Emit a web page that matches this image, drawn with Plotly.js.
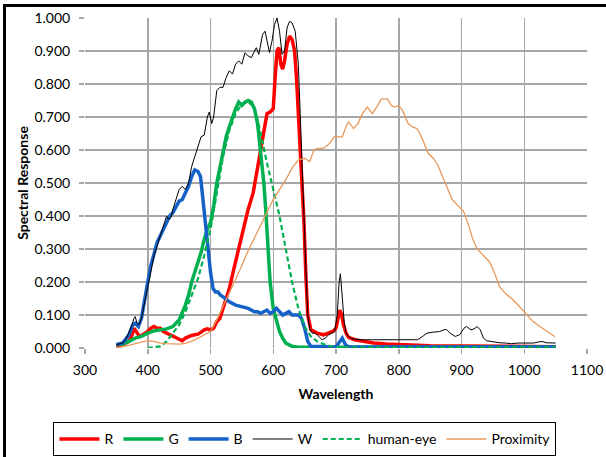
<!DOCTYPE html>
<html>
<head>
<meta charset="utf-8">
<script src="https://cdn.plot.ly/plotly-3.0.1.min.js"></script>
<style>
  html, body { margin: 0; padding: 0; background: #fff; }
  #wrap { position: relative; width: 606px; height: 457px; overflow: hidden; }
  #chart { position: absolute; left: 0; top: 0; width: 606px; height: 457px; }
  #frame { position: absolute; left: 3px; top: 4px; width: 620px; height: 470px;
           border-top: 3px solid #000; border-left: 3px solid #000; pointer-events: none; }
</style>
</head>
<body>
<div id="wrap"><div id="chart"></div><div id="frame"></div></div>
<script>
// ---- Data ----
const seriesNames = ['R', 'G', 'B', 'W', 'human-eye', 'Proximity'];

const rWl = [350,360,370,375,378,382,387,392,400,405,410,415,420,425,430,435,440,445,450,455,460,465,470,475,480,485,490,495,500,505,510,515,520,530,536,545,552,560,568,575,580,585,590,595,600,603,606,609,612,615,618,622,626,630,634,637,640,643,646,649,652,655,660,670,680,690,695,700,703,706,709,712,716,720,730,740,750,760,780,800,850,900,950,1000,1050];
const rVal = [0.005,0.01,0.02,0.04,0.06,0.05,0.035,0.04,0.05,0.06,0.065,0.06,0.06,0.05,0.045,0.04,0.035,0.03,0.025,0.022,0.03,0.035,0.038,0.04,0.042,0.048,0.055,0.058,0.055,0.06,0.08,0.09,0.12,0.18,0.23,0.30,0.36,0.42,0.47,0.55,0.60,0.66,0.71,0.715,0.725,0.82,0.90,0.91,0.86,0.845,0.87,0.92,0.945,0.935,0.90,0.82,0.72,0.60,0.50,0.38,0.22,0.10,0.055,0.045,0.04,0.045,0.05,0.06,0.09,0.115,0.10,0.07,0.045,0.032,0.025,0.022,0.018,0.015,0.012,0.01,0.007,0.006,0.005,0.004,0.004];

const gWl = [350,360,370,380,390,400,410,420,430,440,450,460,465,470,475,480,485,490,495,500,505,510,515,520,525,530,535,540,545,550,555,560,565,570,575,580,585,588,591,595,600,605,610,615,620,630,640,700,800,900,1050];
const gVal = [0.01,0.012,0.02,0.03,0.035,0.045,0.052,0.055,0.058,0.065,0.085,0.13,0.16,0.2,0.23,0.26,0.29,0.33,0.36,0.38,0.43,0.50,0.55,0.60,0.64,0.67,0.70,0.725,0.745,0.735,0.745,0.75,0.745,0.725,0.68,0.60,0.50,0.42,0.31,0.20,0.12,0.085,0.05,0.03,0.015,0.005,0.002,0.002,0.002,0.002,0.002];

const bWl = [350,360,370,376,380,385,390,395,400,405,410,415,420,425,430,435,440,445,450,455,460,465,470,475,480,484,488,492,496,500,504,508,512,516,520,530,540,550,560,570,575,580,585,590,595,600,605,610,615,620,625,630,640,645,650,655,660,700,705,710,715,720,800,900,1050];
const bVal = [0.01,0.015,0.04,0.07,0.075,0.065,0.09,0.15,0.20,0.25,0.29,0.32,0.34,0.36,0.385,0.40,0.41,0.43,0.445,0.45,0.47,0.49,0.52,0.54,0.535,0.52,0.45,0.37,0.30,0.23,0.18,0.17,0.17,0.16,0.155,0.14,0.13,0.125,0.12,0.11,0.11,0.105,0.11,0.115,0.105,0.11,0.12,0.11,0.10,0.105,0.11,0.10,0.10,0.09,0.06,0.02,0.005,0.003,0.015,0.03,0.01,0.003,0.003,0.003,0.003];

const wWl = [350,360,365,370,375,378,380,383,386,390,395,400,405,410,415,420,425,430,433,437,440,445,450,455,460,465,470,475,480,485,490,495,498,502,505,510,515,520,525,530,535,540,545,550,555,560,565,570,573,577,583,587,590,594,598,602,606,610,614,618,622,626,630,635,640,643,646,649,652,655,658,662,667,672,678,683,688,693,698,702,705,707,710,713,716,720,725,740,760,780,800,830,838,845,855,865,872,876,882,890,897,904,908,915,920,925,930,935,940,950,960,970,980,990,1000,1015,1022,1028,1035,1050];
const wVal = [0.01,0.015,0.025,0.045,0.07,0.09,0.095,0.075,0.07,0.09,0.14,0.18,0.23,0.28,0.31,0.34,0.37,0.40,0.39,0.395,0.42,0.45,0.48,0.49,0.48,0.50,0.55,0.58,0.61,0.64,0.645,0.70,0.715,0.68,0.70,0.78,0.79,0.79,0.82,0.84,0.83,0.86,0.87,0.86,0.895,0.885,0.88,0.90,0.91,0.89,0.95,0.96,0.93,0.895,0.93,0.98,1.0,0.96,0.89,0.90,0.97,0.99,0.985,0.96,0.86,0.72,0.56,0.40,0.24,0.10,0.06,0.045,0.045,0.035,0.025,0.03,0.04,0.045,0.05,0.10,0.20,0.225,0.16,0.08,0.045,0.035,0.028,0.025,0.025,0.025,0.025,0.025,0.035,0.045,0.048,0.05,0.055,0.056,0.045,0.035,0.04,0.06,0.065,0.055,0.058,0.065,0.055,0.03,0.022,0.018,0.016,0.015,0.013,0.015,0.015,0.015,0.018,0.02,0.016,0.015];

const eyeWl = [400,420,430,440,450,460,470,480,490,500,510,520,530,540,550,560,570,580,590,600,610,620,630,640,650,660,670,680,690,700,720,800,900,1050];
const eyeVal = [0,0.005,0.02,0.045,0.07,0.11,0.16,0.21,0.28,0.36,0.47,0.58,0.66,0.71,0.74,0.745,0.73,0.65,0.56,0.48,0.40,0.30,0.20,0.12,0.065,0.035,0.02,0.012,0.006,0.003,0.002,0.002,0.002,0.002];

const pWl = [350,360,370,380,390,400,410,420,430,440,450,460,470,480,490,500,510,520,530,540,550,560,570,580,590,600,610,620,630,640,650,658,665,670,680,690,697,710,717,720,728,735,742,750,758,765,772,782,788,793,800,806,815,822,829,835,847,855,862,870,878,885,895,903,910,918,925,935,945,952,961,970,980,988,1000,1014,1025,1040,1049];
const pVal = [0,0.003,0.008,0.013,0.018,0.022,0.02,0.015,0.013,0.012,0.012,0.014,0.02,0.03,0.04,0.05,0.085,0.125,0.165,0.21,0.25,0.295,0.335,0.375,0.41,0.45,0.48,0.51,0.545,0.57,0.575,0.565,0.60,0.605,0.605,0.62,0.64,0.64,0.675,0.685,0.665,0.68,0.71,0.73,0.71,0.73,0.755,0.755,0.735,0.73,0.735,0.72,0.68,0.67,0.665,0.645,0.59,0.575,0.555,0.52,0.48,0.45,0.43,0.415,0.38,0.33,0.30,0.28,0.26,0.23,0.185,0.165,0.15,0.135,0.11,0.08,0.065,0.045,0.034];

const xTickVals = [300,400,500,600,700,800,900,1000,1100];
const yTickVals = [0,0.1,0.2,0.3,0.4,0.5,0.6,0.7,0.8,0.9,1.0];

// ---- Traces ----
const FONT = 'Lato, "Open Sans", sans-serif';
const traces = [
  {x: rWl, y: rVal, name: seriesNames[0], mode: 'lines', line: {color: '#FF0000', width: 3.5}},
  {x: gWl, y: gVal, name: seriesNames[1], mode: 'lines', line: {color: '#00B050', width: 3.5}},
  {x: bWl, y: bVal, name: seriesNames[2], mode: 'lines', line: {color: '#1462C8', width: 3.5}},
  {x: wWl, y: wVal, name: seriesNames[3], mode: 'lines', line: {color: '#000000', width: 1}},
  {x: eyeWl, y: eyeVal, name: seriesNames[4], mode: 'lines', line: {color: '#00B050', width: 2.2, dash: '5px,3px'}},
  {x: pWl, y: pVal, name: seriesNames[5], mode: 'lines', line: {color: '#E9995A', width: 1.3}}
];

const layout = {
  width: 606, height: 457,
  margin: {l: 85, r: 19, t: 18, b: 109, autoexpand: false},
  paper_bgcolor: '#ffffff', plot_bgcolor: '#ffffff',
  font: {family: FONT, size: 14, color: '#000'},
  showlegend: true,
  legend: {
    orientation: 'h', x: 0.438, xanchor: 'center', y: -0.277, yanchor: 'middle',
    bordercolor: '#000', borderwidth: 1, bgcolor: '#fff',
    font: {family: FONT, size: 14, color: '#000'}, itemwidth: 40
  },
  xaxis: {
    range: [300, 1100], tickvals: xTickVals, ticktext: xTickVals.map(String),
    showgrid: true, gridcolor: '#A6A6A6', gridwidth: 1.5,
    zeroline: false, showline: false,
    ticks: 'outside', ticklen: 5, tickcolor: '#A6A6A6', tickwidth: 1.5,
    ticklabelstandoff: 4,
    tickfont: {family: FONT, size: 14, color: '#000'},
    title: {text: 'Wavelength', font: {family: FONT, size: 14, color: '#000', weight: 'bold'}, standoff: 12}
  },
  yaxis: {
    range: [0, 1], tickvals: yTickVals, ticktext: yTickVals.map(v => v.toFixed(3)),
    showgrid: true, gridcolor: '#A6A6A6', gridwidth: 1.5,
    zeroline: false, showline: false,
    ticks: 'outside', ticklen: 5, tickcolor: '#A6A6A6', tickwidth: 1.5,
    ticklabelstandoff: 6,
    tickfont: {family: FONT, size: 14, color: '#000'},
    title: {text: 'Spectral Response', font: {family: FONT, size: 14, color: '#000', weight: 'bold'}, standoff: 2}
  }
};

Plotly.newPlot('chart', traces, layout, {displayModeBar: false, staticPlot: true});
</script>
</body>
</html>
